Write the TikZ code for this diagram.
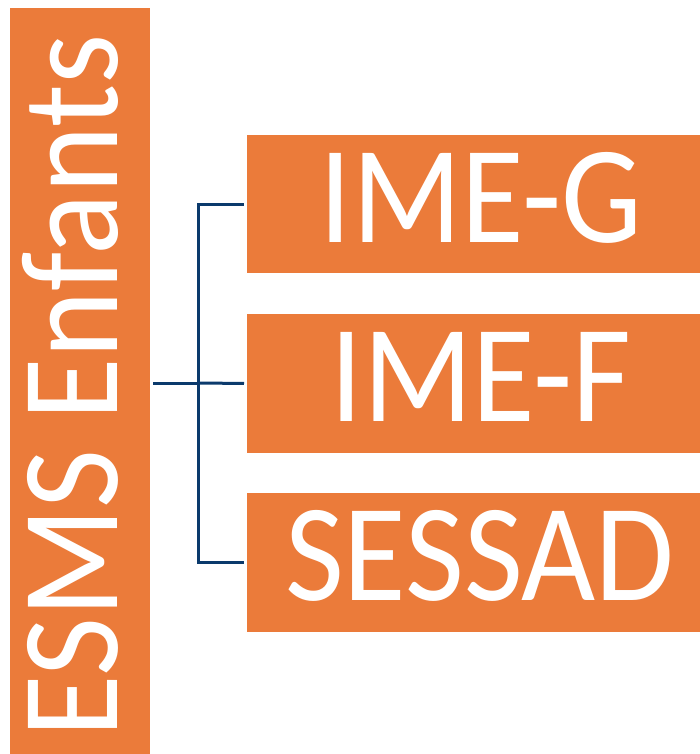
\documentclass[tikz,border=0pt]{standalone}
\usepackage{fontspec}
\setmainfont{Carlito}
\definecolor{boxorange}{HTML}{EB7B3A}
\definecolor{linkblue}{HTML}{0B3A6C}
\begin{document}
\begin{tikzpicture}[x=1pt,y=-1pt,
  orangebox/.style={fill=boxorange,draw=none,inner sep=0pt,outer sep=0pt},
  bigtext/.style={text=white,inner sep=0pt,font=\fontsize{128}{128}\selectfont},
  conn/.style={draw=linkblue,line width=3pt}]
\useasboundingbox (0,0) rectangle (700,754);
% left bar
\node[orangebox,minimum width=140pt,minimum height=746pt] (bar) at (80,381) {};
\node[bigtext,rotate=90,anchor=base] (bartext) at (117,386) {\scalebox{1}[1.085]{ESMS Enfants}};
% boxes
\node[orangebox,minimum width=453pt,minimum height=138pt] (g) at (473.5,204) {};
\node[orangebox,minimum width=453pt,minimum height=139pt] (f) at (473.5,383.5) {};
\node[orangebox,minimum width=453pt,minimum height=139pt] (s) at (473.5,562.5) {};
\node[bigtext,anchor=base] (tg) at (481,242) {\scalebox{1}[1.085]{IME-G}};
\node[bigtext,anchor=base] (tf) at (481,421) {\scalebox{1}[1.085]{IME-F}};
\node[bigtext,anchor=base] (ts) at (480,600) {\scalebox{1}[1.085]{SESSAD}};
% connectors
\coordinate (j) at (198.5,383);
\draw[conn,shorten <=3pt] (bar.east |- j) -- (j);
\draw[conn,line cap=rect] (j |- g.west) -- (j |- s.west);
\draw[conn,shorten >=3pt] (j |- g.west) -- (g.west);
\draw[conn,shorten >=3pt] (j) -- (f.west);
\draw[conn,shorten >=3pt] (j |- s.west) -- (s.west);
\end{tikzpicture}
\end{document}
